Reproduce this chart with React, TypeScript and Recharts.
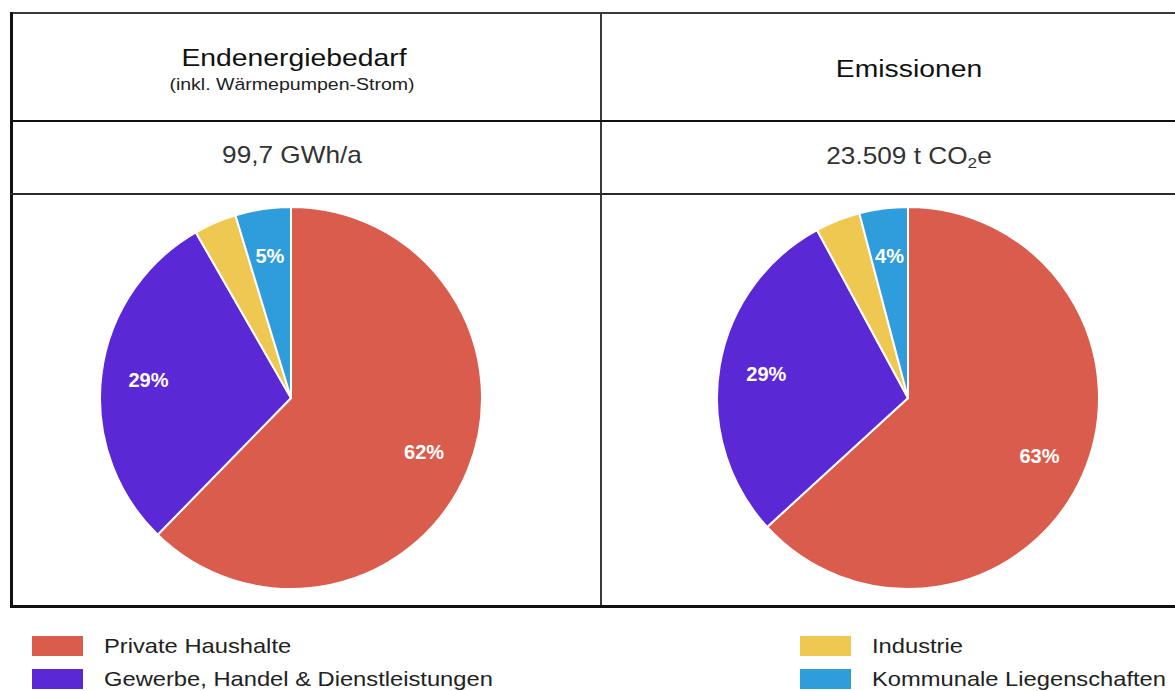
import { PieChart, Pie, Cell } from "recharts"

// Sektoren und Anteile (in %)
const categories = [
  "Private Haushalte",
  "Gewerbe, Handel & Dienstleistungen",
  "Industrie",
  "Kommunale Liegenschaften",
]
const sliceColors = ["#D95C4C", "#5B28D6", "#EFC852", "#2F9CDB"]
const energyShares = [62.3, 29.4, 3.6, 4.7]
const emissionShares = [63.2, 28.9, 3.8, 4.1]

const energyTitle = "Endenergiebedarf"
const energySubtitle = "(inkl. Wärmepumpen-Strom)"
const energyTotal = "99,7 GWh/a"
const emissionTitle = "Emissionen"
const emissionTotal = "23.509 t CO"

const FONT = "'Liberation Sans', Arial, sans-serif"
const RAD = Math.PI / 180

function toData(values: number[]) {
  return categories.map((name, i) => ({ name, value: values[i] }))
}

// white percentage label at ~3/4 of the radius, hidden for small slices
function renderLabel(props: any) {
  const { cx, cy, midAngle, outerRadius, percent } = props
  if (percent < 0.04) return null
  const r = outerRadius * 0.752
  const x = cx + r * Math.cos(-midAngle * RAD)
  const y = cy + r * Math.sin(-midAngle * RAD)
  return (
    <text
      x={x}
      y={y}
      fill="#fff"
      textAnchor="middle"
      dominantBaseline="central"
      fontFamily={FONT}
      fontWeight="bold"
      fontSize={20}
    >
      {`${Math.round(percent * 100)}%`}
    </text>
  )
}

function SharePie({ values, left }: { values: number[]; left: number }) {
  return (
    <div style={{ position: "absolute", left, top: 198 }}>
      <PieChart width={400} height={400} margin={{ top: 0, right: 0, bottom: 0, left: 0 }}>
        <Pie
          data={toData(values)}
          dataKey="value"
          nameKey="name"
          cx={200}
          cy={200}
          outerRadius={191}
          startAngle={90}
          endAngle={-270}
          stroke="#fff"
          strokeWidth={2}
          labelLine={false}
          label={renderLabel}
          isAnimationActive={false}
        >
          {values.map((_, i) => (
            <Cell key={i} fill={sliceColors[i]} />
          ))}
        </Pie>
      </PieChart>
    </div>
  )
}

export default function App() {
  const legendCols = [32, 800]
  const legendRows = [636, 669]
  return (
    <div
      style={{
        position: "absolute",
        left: 0,
        top: 0,
        width: 1175,
        height: 691,
        overflow: "hidden",
        background: "#fff",
        fontFamily: FONT,
      }}
    >
      <svg width={1175} height={691} style={{ position: "absolute", left: 0, top: 0 }}>
        {/* table grid */}
        <rect x={10} y={12} width={1170} height={2} fill="#3a3a3a" />
        <rect x={10} y={12} width={3} height={596} fill="#111" />
        <rect x={600} y={12} width={2} height={594} fill="#3a3a3a" />
        <rect x={10} y={120} width={1170} height={2} fill="#111" />
        <rect x={10} y={193} width={1170} height={2} fill="#2a2a2a" />
        <rect x={10} y={605} width={1170} height={3} fill="#111" />

        {/* header cells */}
        <g transform="translate(294,66) scale(1.18,1)">
          <text textAnchor="middle" fontSize={24} fill="#111">{energyTitle}</text>
        </g>
        <g transform="translate(292,90) scale(1.15,1)">
          <text textAnchor="middle" fontSize={17} fill="#222">{energySubtitle}</text>
        </g>
        <g transform="translate(909,77) scale(1.18,1)">
          <text textAnchor="middle" fontSize={24} fill="#111">{emissionTitle}</text>
        </g>

        {/* totals */}
        <g transform="translate(292,163) scale(1.14,1)">
          <text textAnchor="middle" fontSize={23} fill="#333">{energyTotal}</text>
        </g>
        <g transform="translate(909,164) scale(1.14,1)">
          <text textAnchor="middle" fontSize={23} fill="#333">
            {emissionTotal}
            <tspan fontSize={15} dy={4}>2</tspan>
            <tspan dy={-4}>e</tspan>
          </text>
        </g>

        {/* legend */}
        {categories.map((name, i) => {
          const x = legendCols[Math.floor(i / 2)]
          const y = legendRows[i % 2]
          return (
            <g key={name}>
              <rect x={x} y={y} width={51} height={20} fill={sliceColors[i]} />
              <g transform={`translate(${x + 72},${y + 17}) scale(1.13,1)`}>
                <text fontSize={21} fill="#222">{name}</text>
              </g>
            </g>
          )
        })}
      </svg>

      <SharePie values={energyShares} left={91} />
      <SharePie values={emissionShares} left={708} />
    </div>
  )
}
